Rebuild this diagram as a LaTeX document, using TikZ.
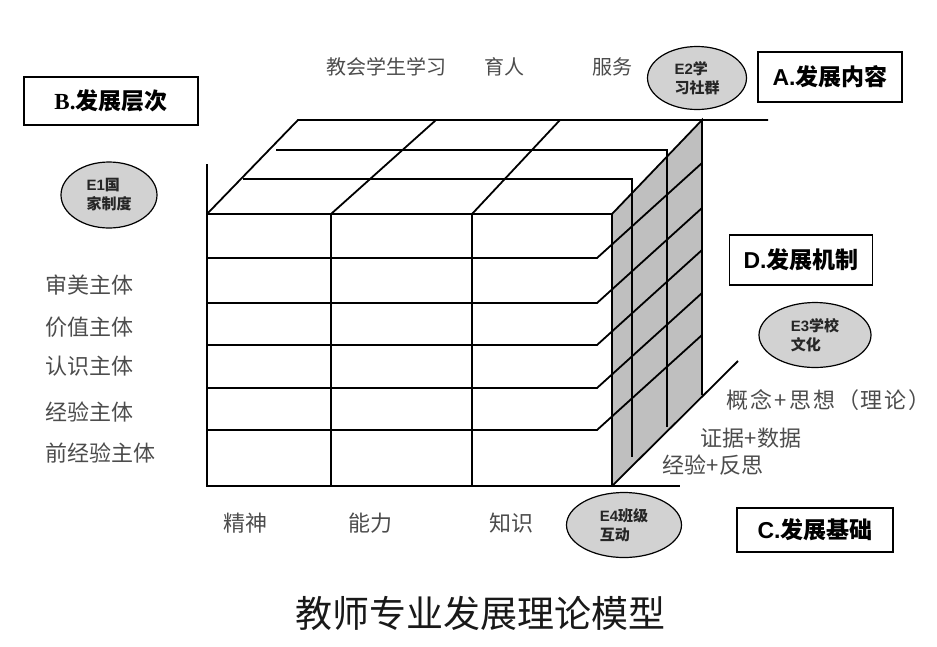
\documentclass[tikz,border=0pt]{standalone}
\usepackage{fontspec}
\usetikzlibrary{shapes.geometric}
\newfontfamily\cjk{Noto Sans CJK SC}
\newfontfamily\cjkkuan[LetterSpace=9]{Noto Sans CJK SC}
\newfontfamily\xsans{Liberation Sans}
\newfontfamily\xserif{Liberation Serif}
\begin{document}
\begin{tikzpicture}[x=1pt, y=-1pt, line width=1.8pt,
    wenzi/.style={font=\cjk\fontsize{22}{22}\selectfont, text=black!70, inner sep=0pt},
    kuang/.style={draw, line width=1.8pt, inner sep=0pt, font=\cjk\bfseries\fontsize{23}{23}\selectfont},
    tuoyuan/.style={ellipse, draw, line width=1.2pt, fill=gray!35, inner sep=0pt, align=left,
      font=\cjk\bfseries\fontsize{15}{19}\selectfont, text=black!85}]
  \useasboundingbox (0,0) rectangle (937,646);
  % 侧面阴影
  \fill[gray!50] (612,214) -- (702,120) -- (702,395) -- (612,486) -- cycle;
  % 正面
  \draw (207,164) -- (207,486) -- (680,486);
  \draw (207,214) -- (612,214) -- (612,486);
  \draw (331,214) -- (331,486);
  \draw (472,214) -- (472,486);
  \foreach \y in {258,303,345,388,430}
    \draw (207,\y) -- (597,\y) -- (702,\y-95);
  % 顶面和侧面
  \draw (207,214) -- (298,120) -- (768,120);
  \draw (612,214) -- (702,120) -- (702,395);
  \draw (243,179) -- (632,179) -- (632,457);
  \draw (276,150) -- (667,150) -- (667,427);
  \draw (331,214) -- (436,120);
  \draw (472,214) -- (560,120);
  \draw (612,486) -- (738,361);
  % 发展内容
  \node[wenzi, font=\cjk\fontsize{20}{20}\selectfont] (xuexi) at (386,67) {教会学生学习};
  \node[wenzi, font=\cjk\fontsize{20}{20}\selectfont] (yuren) at (504,67) {育人};
  \node[wenzi, font=\cjk\fontsize{20}{20}\selectfont] (fuwu) at (612,67) {服务};
  % 发展层次
  \foreach \t/\y [count=\i] in {审美主体/285, 价值主体/327, 认识主体/366, 经验主体/412, 前经验主体/453}
    \node[wenzi, anchor=west] (zhuti\i) at (45,\y) {\t};
  % 发展基础
  \node[wenzi] (jingshen) at (245,523) {精神};
  \node[wenzi] (nengli) at (370,523) {能力};
  \node[wenzi] (zhishi) at (511,523) {知识};
  % 发展机制
  \node[wenzi, font=\cjkkuan\fontsize{22}{22}\selectfont, anchor=west] (gainian) at (726,400) {概念+思想（理论）};
  \node[wenzi, anchor=west] (zhengju) at (700,438) {证据+数据};
  \node[wenzi, anchor=west] (jingyan) at (662,465) {经验+反思};
  % 方框
  \node[kuang, minimum width=144, minimum height=50] (A) at (830,77) {{\xsans A.}发展内容};
  \node[kuang, minimum width=174, minimum height=48] (B) at (111,101) {{\xserif B.}发展层次};
  \node[kuang, minimum width=143, minimum height=50] (D) at (801,260) {{\xsans D.}发展机制};
  \node[kuang, minimum width=156, minimum height=44] (C) at (815,530) {{\xsans C.}发展基础};
  % 椭圆
  \node[tuoyuan, minimum width=96, minimum height=66] (E1) at (109,195) {{\xsans E1}国\\家制度};
  \node[tuoyuan, minimum width=99, minimum height=63] (E2) at (697,78) {{\xsans E2}学\\习社群};
  \node[tuoyuan, minimum width=112, minimum height=65] (E3) at (815,335) {{\xsans E3}学校\\文化};
  \node[tuoyuan, minimum width=115, minimum height=65] (E4) at (624,525) {{\xsans E4}班级\\互动};
  % 标题
  \node[font=\cjk\fontsize{37}{37}\selectfont, text=black!90] (biaoti) at (480,613) {教师专业发展理论模型};
\end{tikzpicture}
\end{document}
